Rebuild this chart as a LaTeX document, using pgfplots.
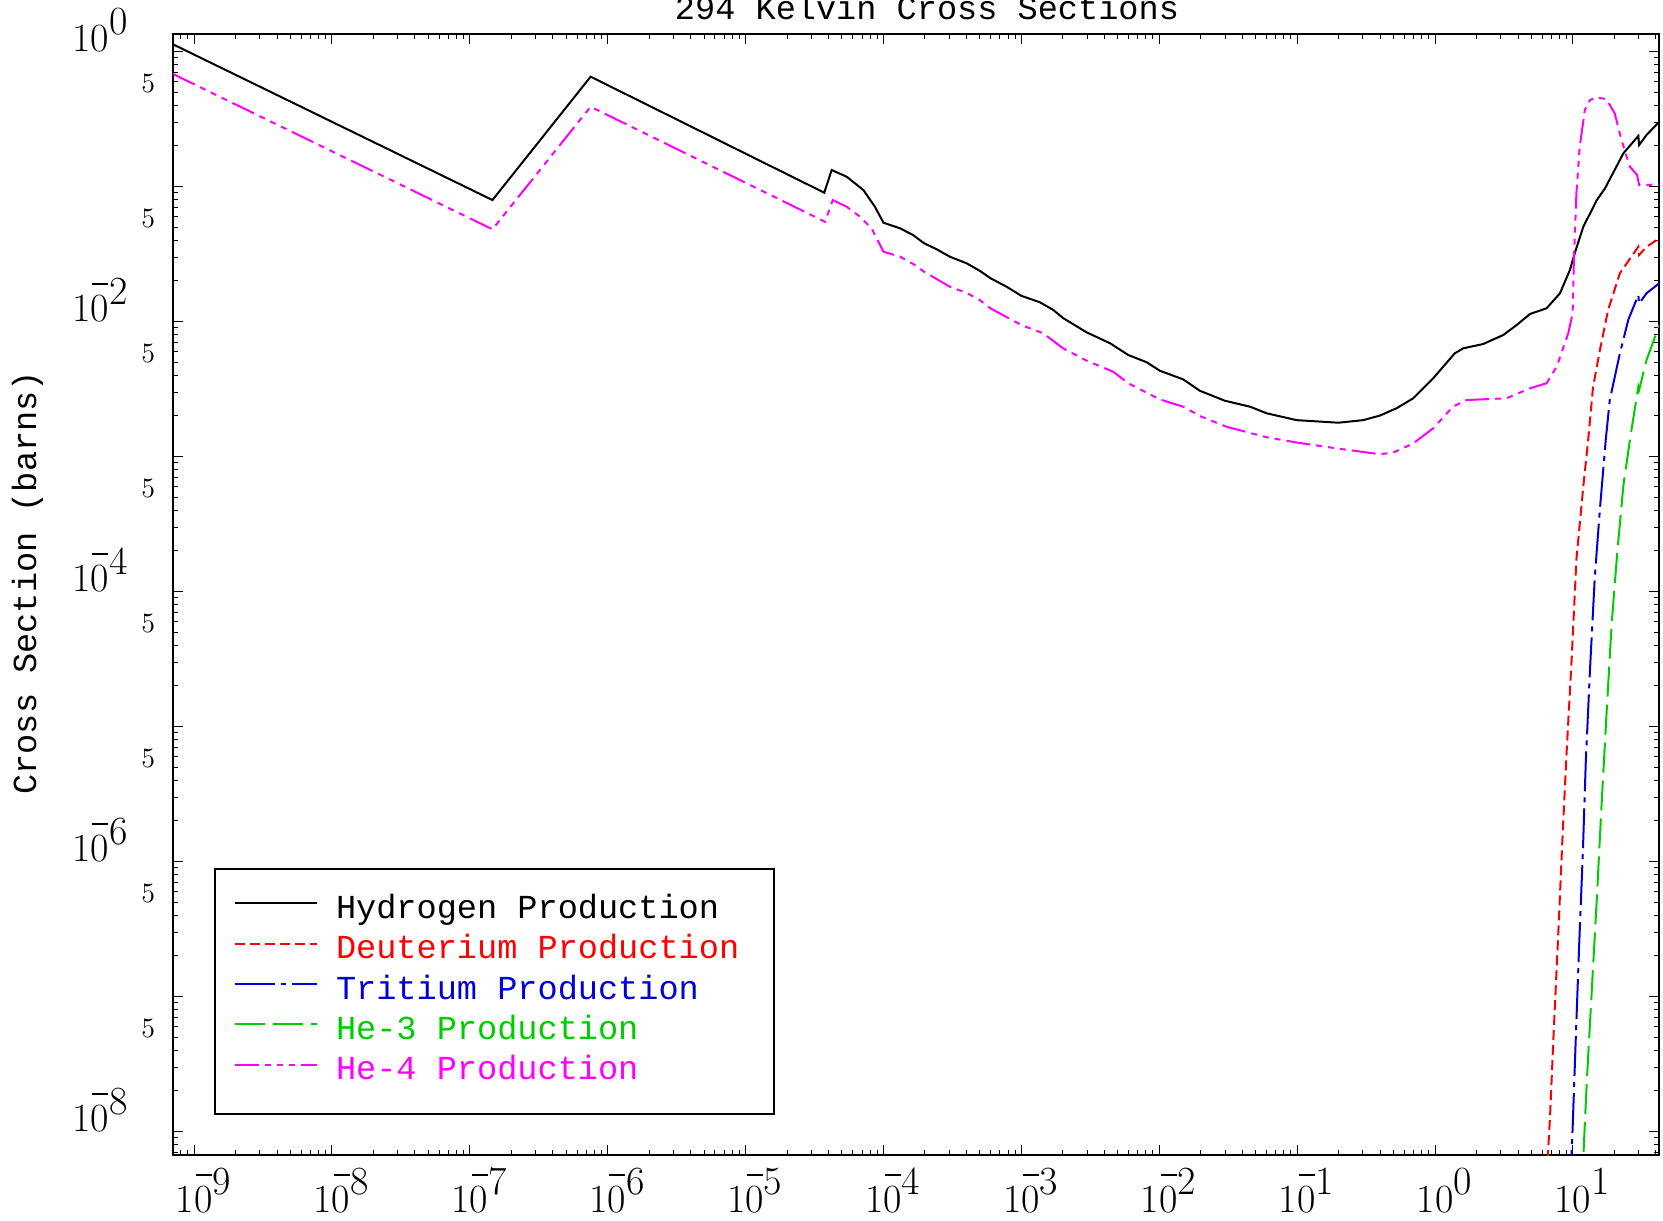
\documentclass[border=0pt]{standalone}
\usepackage{fontspec}
\usepackage{pgfplots}
\pgfplotsset{compat=1.18}
\newfontfamily\hmono{Liberation Mono}
\newcommand{\legfont}{\hmono\fontsize{16.8}{20}\selectfont}
\newcommand{\tickfont}{\fontsize{20}{20}\selectfont}
\definecolor{idlred}{RGB}{255,0,0}
\definecolor{idlblue}{RGB}{0,0,215}
\definecolor{idlgreen}{RGB}{0,205,0}
\definecolor{idlmag}{RGB}{255,0,255}
% tick label: "10" with a full-size raised exponent hanging to the right
\newcommand{\tlpos}[1]{10\rlap{\raisebox{8.6pt}{#1}}}
\newcommand{\tlneg}[1]{10\rlap{\raisebox{8.6pt}{\llap{\rule[9.6pt]{8pt}{0.9pt}\hspace{0.3pt}}#1}}}
\begin{document}
\begin{tikzpicture}
\begin{axis}[
  scale only axis,
  width=743pt, height=560.65pt,
  xmode=log, ymode=log,
  xmin=7.04e-10, xmax=42.1,
  ymin=6.70e-9, ymax=1.355,
  axis line style={line width=1pt},
  every tick/.style={line width=0.5pt, black},
  major tick length=5pt, minor tick length=2.5pt,
  tick align=inside,
  xtick={1e-9,1e-8,1e-7,1e-6,1e-5,1e-4,1e-3,1e-2,1e-1,1e0,1e1},
  xticklabels={\tlneg{9},\tlneg{8},\tlneg{7},\tlneg{6},\tlneg{5},\tlneg{4},\tlneg{3},\tlneg{2},\tlneg{1},\tlpos{0},\tlpos{1}},
  minor xtick={8e-10,9e-10,
    2e-9,3e-9,4e-9,5e-9,6e-9,7e-9,8e-9,9e-9,
    2e-8,3e-8,4e-8,5e-8,6e-8,7e-8,8e-8,9e-8,
    2e-7,3e-7,4e-7,5e-7,6e-7,7e-7,8e-7,9e-7,
    2e-6,3e-6,4e-6,5e-6,6e-6,7e-6,8e-6,9e-6,
    2e-5,3e-5,4e-5,5e-5,6e-5,7e-5,8e-5,9e-5,
    2e-4,3e-4,4e-4,5e-4,6e-4,7e-4,8e-4,9e-4,
    2e-3,3e-3,4e-3,5e-3,6e-3,7e-3,8e-3,9e-3,
    2e-2,3e-2,4e-2,5e-2,6e-2,7e-2,8e-2,9e-2,
    2e-1,3e-1,4e-1,5e-1,6e-1,7e-1,8e-1,9e-1,
    2,3,4,5,6,7,8,9,20,30,40},
  ytick={1e0,1e-1,1e-2,1e-3,1e-4,1e-5,1e-6,1e-7,1e-8},
  yticklabels={\tlpos{0}\kern23pt,,\tlneg{2}\kern23pt,,\tlneg{4}\kern23pt,,\tlneg{6}\kern23pt,,\tlneg{8}\kern23pt},
  minor ytick={7e-9,8e-9,9e-9,
    2e-8,3e-8,4e-8,5e-8,6e-8,7e-8,8e-8,9e-8,
    2e-7,3e-7,4e-7,5e-7,6e-7,7e-7,8e-7,9e-7,
    2e-6,3e-6,4e-6,5e-6,6e-6,7e-6,8e-6,9e-6,
    2e-5,3e-5,4e-5,5e-5,6e-5,7e-5,8e-5,9e-5,
    2e-4,3e-4,4e-4,5e-4,6e-4,7e-4,8e-4,9e-4,
    2e-3,3e-3,4e-3,5e-3,6e-3,7e-3,8e-3,9e-3,
    2e-2,3e-2,4e-2,5e-2,6e-2,7e-2,8e-2,9e-2,
    2e-1,3e-1,4e-1,5e-1,6e-1,7e-1,8e-1,9e-1},
  extra y ticks={5e-1,5e-2,5e-3,5e-4,5e-5,5e-6,5e-7,5e-8},
  extra y tick labels={5,5,5,5,5,5,5,5},
  extra y tick style={major tick length=0pt, yticklabel style={font=\fontsize{14}{14}\selectfont}},
  xticklabel style={anchor=base, inner sep=0pt, yshift=-28.5pt, font=\tickfont},
  yticklabel style={anchor=base east, inner sep=0pt, xshift=-8.75pt, font=\tickfont},
  title={294 Kelvin Cross Sections},
  every axis title shift=0pt,
  title style={at={(rel axis cs:0.5074,1.0125)}, anchor=base, inner sep=0pt, font=\legfont},
  ylabel={Cross Section (barns)},
  ylabel style={at={(rel axis cs:-0.0921,0.5103)}, anchor=base, inner sep=0pt, font=\legfont},
  legend image code/.code={\draw[#1] (0pt,3.8pt) -- (41.2pt,3.8pt);},
  legend style={at={(rel axis cs:0.0276,0.0357)}, anchor=south west,
    draw=black, line width=1pt, inner xsep=9.3pt, inner ysep=13.5pt,
    row sep=5.7pt, column sep=9pt, font=\legfont,
    nodes={inner sep=0pt, text height=11pt, text depth=3.5pt}},
  legend cell align=left,
]
% Hydrogen production
\addplot[black, line width=1pt] coordinates {
(7.05e-10,1.13) (1.46e-7,0.0794) (7.52e-7,0.651) (3.72e-5,0.0900)
(4.21e-5,0.1325) (5.41e-5,0.1182) (7.15e-5,0.0942) (8.67e-5,0.0708)
(1.00e-4,0.0539) (1.32e-4,0.0490) (1.64e-4,0.0437) (1.97e-4,0.0380)
(2.43e-4,0.0343) (3.03e-4,0.0302) (4.01e-4,0.0270) (5.01e-4,0.0237)
(5.98e-4,0.0209) (7.82e-4,0.0181) (1.00e-3,0.0155) (1.36e-3,0.0139)
(1.70e-3,0.0122) (2.01e-3,0.0106) (2.97e-3,0.00832) (4.40e-3,0.00690)
(5.96e-3,0.00565) (8.11e-3,0.00499) (1.01e-2,0.00432) (1.49e-2,0.00373)
(1.97e-2,0.00307) (2.99e-2,0.00259) (4.55e-2,0.00234) (6.01e-2,0.00209)
(9.91e-2,0.00186) (0.199,0.00178) (0.301,0.00186) (0.398,0.00201)
(0.527,0.00228) (0.695,0.00270) (0.970,0.00380) (1.39,0.00581)
(1.60,0.00633) (2.23,0.00681) (3.12,0.00794) (3.91,0.00942)
(4.88,0.01137) (6.44,0.01253) (8.05,0.01618) (9.51,0.0241)
(10.3,0.0320) (11.9,0.0504) (14.9,0.0794) (17.1,0.0970)
(23.2,0.176) (29.8,0.237) (30.2,0.203) (34.2,0.241) (42.3,0.302)
};
\addlegendentry{Hydrogen Production}
% Deuterium production
\addplot[idlred, line width=1pt, dash pattern=on 5pt off 2.5pt] coordinates {
(6.37,3.69e-9) (6.81,1.24e-8) (7.28,5.93e-8) (7.82,2.84e-7)
(8.36,1.35e-6) (9.00,6.48e-6) (9.78,3.10e-5) (10.6,1.73e-4)
(11.9,6.05e-4) (12.9,1.33e-3) (14.0,3.29e-3) (15.7,6.15e-3)
(18.0,1.22e-2) (21.9,2.28e-2) (29.8,3.58e-2) (30.2,3.11e-2)
(34.2,3.58e-2) (42.3,4.13e-2)
};
\addlegendentry{\textcolor{idlred}{Deuterium Production}\kern8pt}
% Tritium production
\addplot[idlblue, line width=1pt, dash pattern=on 20pt off 3pt on 2.5pt off 3pt] coordinates {
(9.51,3.69e-9) (9.95,1.06e-8) (10.5,5.07e-8) (11.1,2.42e-7)
(11.8,1.16e-6) (12.4,5.54e-6) (13.3,2.65e-5) (14.4,1.27e-4)
(15.7,4.10e-4) (17.3,1.33e-3) (18.5,2.62e-3) (21.9,5.81e-3)
(25.2,1.03e-2) (29.8,1.57e-2) (30.2,1.36e-2) (34.2,1.62e-2) (42.3,1.92e-2)
};
\addlegendentry{\textcolor{idlblue}{Tritium Production}}
% He-3 production
\addplot[idlgreen, line width=1pt, dash pattern=on 15pt off 4pt] coordinates {
(11.6,3.69e-9) (12.6,2.32e-8) (13.7,1.11e-7) (14.9,5.30e-7)
(16.1,2.53e-6) (17.5,1.21e-5) (19.1,5.79e-5) (20.9,1.87e-4)
(23.2,6.05e-4) (25.9,1.33e-3) (29.8,3.29e-3) (30.2,3.11e-3)
(34.2,5.19e-3) (42.3,9.42e-3)
};
\addlegendentry{\textcolor{idlgreen}{He-3 Production}}
% He-4 production
\addplot[idlmag, line width=1pt, dash pattern=on 12pt off 3pt on 3pt off 3pt on 3pt off 3pt on 3pt off 3pt] coordinates {
(7.05e-10,0.681) (1.46e-7,0.0482) (7.52e-7,0.390) (3.77e-5,0.0548)
(4.29e-5,0.0794) (5.41e-5,0.0708) (6.76e-5,0.0598) (8.20e-5,0.0490)
(1.00e-4,0.0329) (1.32e-4,0.0302) (1.64e-4,0.0267) (1.97e-4,0.0234)
(3.03e-4,0.0181) (4.01e-4,0.0163) (5.01e-4,0.0144) (5.98e-4,0.0125)
(1.00e-3,0.00942) (1.44e-3,0.00818) (2.01e-3,0.00633) (2.97e-3,0.00513)
(4.63e-3,0.00425) (5.96e-3,0.00349) (1.01e-2,0.00265) (1.49e-2,0.00234)
(2.03e-2,0.00197) (3.08e-2,0.00166) (6.01e-2,0.00139) (9.91e-2,0.00127)
(0.204,0.00114) (0.398,0.00104) (0.498,0.00107) (0.695,0.00125)
(0.970,0.00162) (1.35,0.00234) (1.69,0.00262) (3.30,0.00270)
(4.88,0.00320) (6.44,0.00349) (7.62,0.00462) (9.25,0.00818)
(9.95,0.0115) (10.16,0.0285) (10.6,0.0891) (11.2,0.197)
(12.2,0.369) (13.3,0.437) (14.9,0.458) (17.5,0.443)
(20.1,0.348) (22.5,0.221) (25.9,0.140) (29.2,0.122)
(30.2,0.1026) (34.2,0.1026) (42.3,0.104)
};
\addlegendentry{\textcolor{idlmag}{He-4 Production}}
\end{axis}
\pgfresetboundingbox
\path[use as bounding box] ([shift={(-86.5pt,-32.5pt)}]current axis.south west) rectangle +(831.5pt,610pt);
\end{tikzpicture}
\end{document}
